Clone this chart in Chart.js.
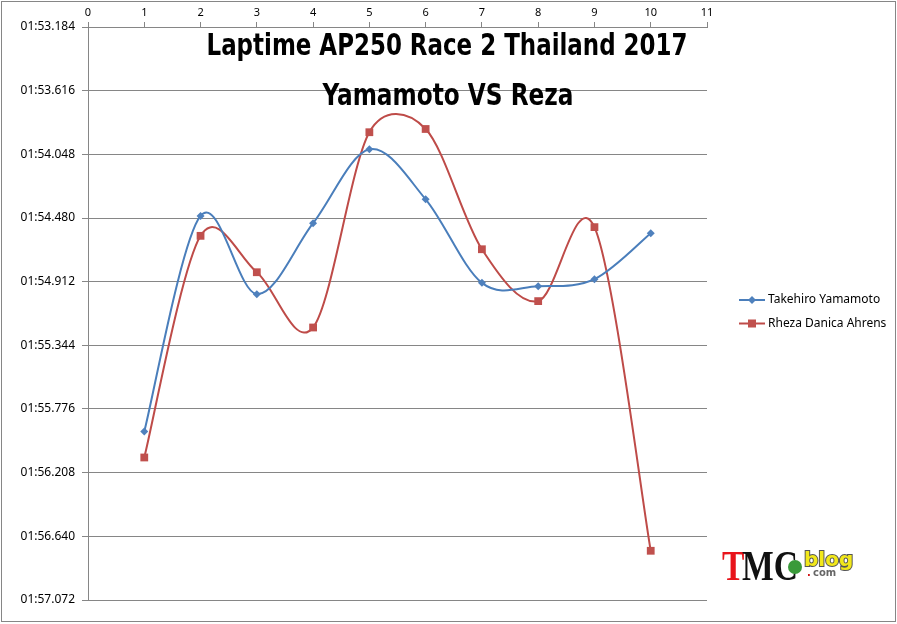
<!DOCTYPE html>
<html>
<head>
<meta charset="utf-8">
<script src="https://cdn.jsdelivr.net/npm/chart.js@4"></script>
<style>
  body { margin: 0; background: #fff; }
  #wrap { width: 897px; height: 624px; }
</style>
</head>
<body>
<div id="wrap"><canvas id="chart" width="897" height="624"></canvas></div>
<script>
// laps and lap times in seconds (01:54.048 -> 114.048)
const laps = [1, 2, 3, 4, 5, 6, 7, 8, 9, 10];
const yamamotoTimes = [115.929, 114.466, 114.997, 114.515, 114.014, 114.353, 114.920, 114.943, 114.895, 114.583];
const rezaTimes = [116.105, 114.601, 114.848, 115.223, 113.898, 113.876, 114.692, 115.044, 114.542, 116.738];
const seriesNames = ['Takehiro Yamamoto', 'Rheza Danica Ahrens'];
const yTicks = [113.184, 113.616, 114.048, 114.480, 114.912, 115.344, 115.776, 116.208, 116.640, 117.072];
const titleLines = ['Laptime AP250 Race 2 Thailand 2017', 'Yamamoto VS Reza'];

const GRID = '#868686';

function fmtTime(v) {
    const m = Math.floor(v / 60);
    const s = (v - m * 60).toFixed(3);
    return String(m).padStart(2, '0') + ':' + s.padStart(6, '0');
}

function toPoints(ys) {
    return laps.map((x, i) => ({ x: x, y: ys[i] }));
}

// excel-like smoothing: arm = (next - prev) / 6, capped at half the segment
const excelSmooth = {
    id: 'excelSmooth',
    beforeDatasetsDraw(chart) {
        chart.data.datasets.forEach((ds, di) => {
            const meta = chart.getDatasetMeta(di);
            const line = meta.dataset;
            const pts = meta.data;
            const n = pts.length;
            line.updateControlPoints(chart.chartArea, 'x');
            for (let i = 0; i < n; i++) {
                const p = pts[i];
                const prev = pts[Math.max(i - 1, 0)];
                const next = pts[Math.min(i + 1, n - 1)];
                let ax = (next.x - prev.x) / 6;
                let ay = (next.y - prev.y) / 6;
                const alen = Math.hypot(ax, ay) || 1;
                const dPrev = Math.hypot(p.x - prev.x, p.y - prev.y);
                const dNext = Math.hypot(next.x - p.x, next.y - p.y);
                const kPrev = i > 0 ? Math.min(1, dPrev / 2 / alen) : 0;
                const kNext = i < n - 1 ? Math.min(1, dNext / 2 / alen) : 0;
                p.cp1x = p.x - ax * kPrev;
                p.cp1y = p.y - ay * kPrev;
                p.cp2x = p.x + ax * kNext;
                p.cp2y = p.y + ay * kNext;
            }
            line._pointsUpdated = true;
            delete line._path;
        });
    }
};

// title, legend, logo and outer frame
const extras = {
    id: 'extras',
    afterDraw(chart) {
        const ctx = chart.ctx;
        ctx.save();

        // frame
        ctx.strokeStyle = GRID;
        ctx.lineWidth = 1;
        ctx.strokeRect(1.5, 1.5, 894, 620);

        // title, squeezed to the width seen in the picture
        ctx.fillStyle = '#000';
        ctx.textAlign = 'center';
        ctx.textBaseline = 'alphabetic';
        ctx.font = 'bold 30px "DejaVu Sans Condensed", "DejaVu Sans", sans-serif';
        const tl = [[titleLines[0], 447, 55, 481], [titleLines[1], 448, 105, 251]];
        tl.forEach(([txt, cx, by, w]) => {
            const mw = ctx.measureText(txt).width;
            ctx.save();
            ctx.translate(cx, by);
            ctx.scale(w / mw, 1);
            ctx.fillText(txt, 0, 0);
            ctx.restore();
        });

        // legend
        ctx.font = '12px "Noto Sans", sans-serif';
        ctx.textAlign = 'left';
        ctx.textBaseline = 'middle';
        chart.data.datasets.forEach((ds, i) => {
            const y = 300 + i * 23.5;
            ctx.strokeStyle = ds.borderColor;
            ctx.lineWidth = 2;
            ctx.beginPath();
            ctx.moveTo(739, y);
            ctx.lineTo(765, y);
            ctx.stroke();
            ctx.fillStyle = ds.pointBackgroundColor;
            if (ds.pointStyle === 'rectRot') {
                ctx.beginPath();
                ctx.moveTo(752, y - 4); ctx.lineTo(756, y); ctx.lineTo(752, y + 4); ctx.lineTo(748, y);
                ctx.closePath();
                ctx.fill();
            } else {
                ctx.fillRect(748, y - 4, 8, 8);
            }
            ctx.fillStyle = '#000';
            ctx.fillText(ds.label, 768, y);
        });

        // logo
        ctx.textBaseline = 'alphabetic';
        ctx.font = 'bold 42px "Liberation Serif", serif';
        ctx.save();
        ctx.translate(722, 580);
        ctx.scale(0.8, 1);
        ctx.fillStyle = '#e8141b';
        ctx.fillText('T', 0, 0);
        const tw = ctx.measureText('T').width;
        ctx.fillStyle = '#111';
        ctx.fillText('MC', tw - 3, 0);
        ctx.restore();
        ctx.beginPath();
        ctx.fillStyle = '#3a9a3a';
        ctx.arc(795, 567, 7, 0, Math.PI * 2);
        ctx.fill();
        ctx.font = 'bold 20px "DejaVu Sans", sans-serif';
        ctx.lineWidth = 2;
        ctx.strokeStyle = '#555';
        ctx.strokeText('blog', 804, 566);
        ctx.fillStyle = '#f2e81a';
        ctx.fillText('blog', 804, 566);
        ctx.font = 'bold 10px "DejaVu Sans", sans-serif';
        ctx.fillStyle = '#d01010';
        ctx.fillText('.', 807, 576);
        ctx.fillStyle = '#666';
        ctx.fillText('com', 813, 576);

        ctx.restore();
    }
};

new Chart(document.getElementById('chart'), {
    type: 'line',
    data: {
        datasets: [{
            label: seriesNames[0],
            data: toPoints(yamamotoTimes),
            borderColor: '#4A7EBB',
            borderWidth: 2,
            pointStyle: 'rectRot',
            pointRadius: 4,
            pointBackgroundColor: '#4F81BD',
            pointBorderColor: '#4F81BD',
            pointBorderWidth: 0,
            tension: 0.5
        }, {
            label: seriesNames[1],
            data: toPoints(rezaTimes),
            borderColor: '#BE4B48',
            borderWidth: 2,
            pointStyle: 'rect',
            pointRadius: 5.5,
            pointBackgroundColor: '#C0504D',
            pointBorderColor: '#C0504D',
            pointBorderWidth: 0,
            tension: 0.5
        }]
    },
    options: {
        responsive: false,
        animation: false,
        devicePixelRatio: 1,
        layout: { padding: { left: 0, top: 0, right: 190, bottom: 24 } },
        plugins: {
            legend: { display: false },
            title: { display: false },
            tooltip: { enabled: false }
        },
        scales: {
            x: {
                type: 'linear',
                position: 'top',
                min: 0,
                max: 11,
                afterFit: (s) => { s.height = 27; },
                ticks: {
                    stepSize: 1,
                    color: '#000',
                    padding: 3,
                    font: { family: 'Noto Sans', size: 11 }
                },
                grid: { drawOnChartArea: false, drawTicks: true, tickLength: 5, color: GRID },
                border: { color: GRID }
            },
            y: {
                reverse: true,
                min: yTicks[0],
                max: yTicks[yTicks.length - 1],
                afterFit: (s) => { s.width = 88; },
                afterBuildTicks: (s) => { s.ticks = yTicks.map(v => ({ value: v })); },
                ticks: {
                    color: '#000',
                    padding: 7,
                    font: { family: 'Noto Sans', size: 12 },
                    callback: (v) => fmtTime(v)
                },
                grid: { color: GRID, tickLength: 6 },
                border: { color: GRID }
            }
        }
    },
    plugins: [excelSmooth, extras]
});
</script>
</body>
</html>
